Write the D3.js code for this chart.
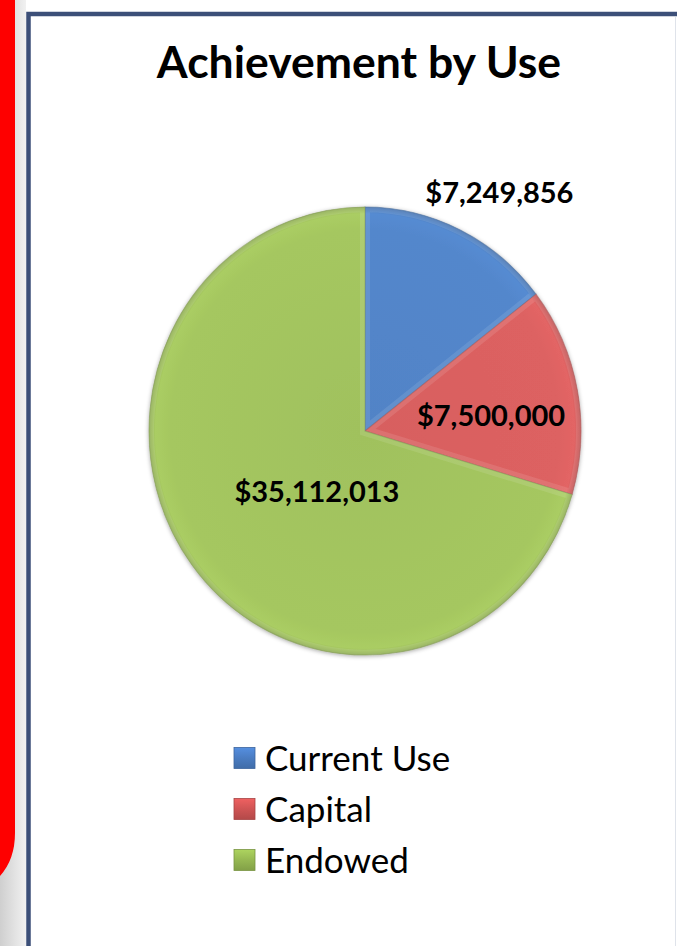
<!DOCTYPE html>
<html>
<head>
<meta charset="utf-8">
<script src="https://cdn.jsdelivr.net/npm/d3@7"></script>
<style>
  html, body { margin: 0; padding: 0; background: #ffffff; }
  svg { display: block; }
</style>
</head>
<body>
<svg id="chart" width="677" height="946"></svg>
<script>
// Campaign achievement split by intended use of funds
const categories = ["Current Use", "Capital", "Endowed"];
const values = [7249856, 7500000, 35112013];
const valueLabels = ["$7,249,856", "$7,500,000", "$35,112,013"];
const sliceColors = ["#5387cc", "#dd6262", "#a5c760"];
const legendColors = ["#4a7cc2", "#cf5454", "#96b852"];
const chartTitle = "Achievement by Use";

const W = 677, H = 946;
const svg = d3.select("#chart");
const defs = svg.append("defs");

// ---- page frame: red side tab, grey gutter, navy chart border ----
const gutter = defs.append("linearGradient").attr("id", "gutter")
  .attr("x1", "0").attr("x2", "1").attr("y1", "0").attr("y2", "0");
gutter.append("stop").attr("offset", "0%").attr("stop-color", "#cfcfcf");
gutter.append("stop").attr("offset", "100%").attr("stop-color", "#f1f1f1");

svg.append("rect").attr("x", 0).attr("y", 0).attr("width", W).attr("height", H).attr("fill", "#ffffff");
svg.append("rect").attr("x", 0).attr("y", 0).attr("width", 26).attr("height", H).attr("fill", "url(#gutter)");
svg.append("path")
  .attr("d", "M0,0 H15 V833 A40,55 0 0 1 0,876 Z")
  .attr("fill", "#fe0000");

svg.append("rect")
  .attr("x", 28.5).attr("y", 14)
  .attr("width", 800).attr("height", 1200)
  .attr("fill", "#ffffff")
  .attr("stroke", "#3c4f78").attr("stroke-width", 4.5);
svg.append("line")
  .attr("x1", 675.5).attr("x2", 675.5).attr("y1", 17).attr("y2", H)
  .attr("stroke", "#dfe3ea").attr("stroke-width", 1);

// ---- title ----
svg.append("text")
  .attr("x", 359).attr("y", 78)
  .attr("text-anchor", "middle")
  .attr("font-family", "Lato, 'Open Sans', sans-serif")
  .attr("font-weight", 700)
  .attr("font-size", 44.5)
  .attr("fill", "#000")
  .text(chartTitle);

// ---- pie ----
const cx = 365, cy = 431, R = 216, yStretch = 224 / 216;

const shadow = defs.append("filter").attr("id", "pieShadow")
  .attr("x", "-10%").attr("y", "-10%").attr("width", "120%").attr("height", "120%");
shadow.append("feDropShadow")
  .attr("dx", 0).attr("dy", 1).attr("stdDeviation", 2.2)
  .attr("flood-color", "#000").attr("flood-opacity", 0.35);

// each slice gets a soft radial shading, lighter toward the rim
sliceColors.forEach((c, i) => {
  const g = defs.append("radialGradient").attr("id", "slice" + i)
    .attr("gradientUnits", "userSpaceOnUse")
    .attr("cx", 0).attr("cy", 0).attr("r", R);
  const base = d3.color(c);
  g.append("stop").attr("offset", "0%").attr("stop-color", base.darker(0.08));
  g.append("stop").attr("offset", "90%").attr("stop-color", base);
  g.append("stop").attr("offset", "97%").attr("stop-color", base.brighter(0.08));
  g.append("stop").attr("offset", "100%").attr("stop-color", base.darker(0.4));
});

const pie = d3.pie().sort(null).value(d => d)(values);
const arc = d3.arc().innerRadius(0).outerRadius(R);

const pieG = svg.append("g")
  .attr("transform", `translate(${cx},${cy}) scale(1,${yStretch})`)
  .attr("filter", "url(#pieShadow)");

pieG.selectAll("path.slice")
  .data(pie)
  .join("path")
  .attr("class", "slice")
  .attr("d", arc)
  .attr("fill", (d, i) => `url(#slice${i})`)
  .attr("stroke", (d, i) => d3.color(sliceColors[i]).darker(1))
  .attr("stroke-opacity", 0.5)
  .attr("stroke-width", 1);

// bevel highlight along the straight edges of each slice
const clip = defs.selectAll("clipPath.sc").data(pie).join("clipPath")
  .attr("class", "sc").attr("id", (d, i) => "sc" + i);
clip.append("path").attr("d", arc);
pieG.selectAll("path.bevel")
  .data(pie)
  .join("path")
  .attr("class", "bevel")
  .attr("d", arc)
  .attr("clip-path", (d, i) => `url(#sc${i})`)
  .attr("fill", "none")
  .attr("stroke", "#ffffff")
  .attr("stroke-opacity", 0.1)
  .attr("stroke-width", 10);

// ---- value labels, placed in polar terms around the pie centre ----
const labelPlacement = [
  { da: 3.2, r: 274 },   // outside, above the blue slice
  { da: 3.6, r: 127 },
  { da: -14.6, r: 77 }
];
const mid = d => (d.startAngle + d.endAngle) / 2;
svg.append("g").selectAll("text")
  .data(pie)
  .join("text")
  .attr("x", (d, i) => cx + labelPlacement[i].r * Math.sin(mid(d) + labelPlacement[i].da * Math.PI / 180))
  .attr("y", (d, i) => cy - labelPlacement[i].r * Math.cos(mid(d) + labelPlacement[i].da * Math.PI / 180))
  .attr("dy", "0.36em")
  .attr("text-anchor", "middle")
  .attr("font-family", "Lato, 'Open Sans', sans-serif")
  .attr("font-weight", 700)
  .attr("font-size", 29)
  .attr("fill", "#000")
  .text((d, i) => valueLabels[i]);

// ---- legend ----
legendColors.forEach((c, i) => {
  const g = defs.append("linearGradient").attr("id", "leg" + i)
    .attr("x1", 0).attr("x2", 0).attr("y1", 0).attr("y2", 1);
  const base = d3.color(c);
  g.append("stop").attr("offset", "0%").attr("stop-color", base.brighter(0.4));
  g.append("stop").attr("offset", "50%").attr("stop-color", base);
  g.append("stop").attr("offset", "100%").attr("stop-color", base.darker(0.4));
});

const legendY = d3.scalePoint().domain(categories).range([758, 860]);
const legend = svg.append("g").selectAll("g")
  .data(categories)
  .join("g")
  .attr("transform", d => `translate(234,${legendY(d)})`);
legend.append("rect")
  .attr("x", 0).attr("y", -10.5).attr("width", 21).attr("height", 21)
  .attr("fill", (d, i) => `url(#leg${i})`)
  .attr("stroke", (d, i) => d3.color(legendColors[i]).darker(0.6))
  .attr("stroke-width", 0.8);
legend.append("text")
  .attr("x", 31).attr("y", 0).attr("dy", "0.36em")
  .attr("font-family", "Lato, 'Open Sans', sans-serif")
  .attr("font-size", 35)
  .attr("fill", "#000")
  .text(d => d);
</script>
</body>
</html>
